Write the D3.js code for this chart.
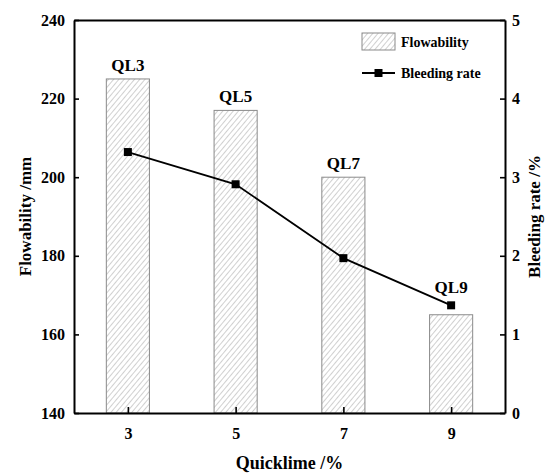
<!DOCTYPE html>
<html>
<head>
<meta charset="utf-8">
<script src="https://cdn.jsdelivr.net/npm/d3@7"></script>
<style>
  body { margin: 0; background: #fff; }
  svg { font-family: "Liberation Serif", "Times New Roman", serif; font-weight: bold; }
</style>
</head>
<body>
<div id="chart"></div>
<script>
var quicklime = [3, 5, 7, 9];
var barLabels = ["QL3", "QL5", "QL7", "QL9"];
var flowability = [225, 217, 200, 165];
var bleedingRate = [3.32, 2.91, 1.97, 1.37];
var leftTicks = [140, 160, 180, 200, 220, 240];
var rightTicks = [0, 1, 2, 3, 4, 5];

var width = 550, height = 475,
	margin = {top: 20, right: 45, bottom: 62, left: 74},
	innerW = width - margin.left - margin.right,
	innerH = height - margin.top - margin.bottom;

var svg = d3.select("#chart").append("svg")
	.attr("width", width).attr("height", height);

var defs = svg.append("defs");
var pat = defs.append("pattern")
	.attr("id", "hatch")
	.attr("patternUnits", "userSpaceOnUse")
	.attr("width", 4).attr("height", 4)
	.attr("patternTransform", "rotate(40)");
pat.append("rect").attr("width", 4).attr("height", 4).attr("fill", "#fff");
pat.append("line")
	.attr("x1", 0).attr("y1", 0).attr("x2", 0).attr("y2", 4)
	.attr("stroke", "#8a8a8a").attr("stroke-width", 0.8);

var g = svg.append("g").attr("transform", "translate(" + margin.left + "," + margin.top + ")");

var x = d3.scaleLinear().domain([2, 10]).range([0, innerW]);
var yL = d3.scaleLinear().domain([140, 240]).range([innerH, 0]);
var yR = d3.scaleLinear().domain([0, 5]).range([innerH, 0]);
var barW = x(2.8) - x(2);

// bars
g.selectAll("rect.bar")
	.data(flowability)
	.enter()
	.append("rect")
	.attr("class", "bar")
	.attr("x", function(d, i) { return x(quicklime[i]) - barW / 2; })
	.attr("y", function(d) { return yL(d); })
	.attr("width", barW)
	.attr("height", function(d) { return innerH - yL(d); })
	.attr("fill", "url(#hatch)")
	.attr("stroke", "#8a8a8a")
	.attr("stroke-width", 1);

// label sits above whichever is higher: bar top or line marker
g.selectAll("text.barlab")
	.data(flowability)
	.enter()
	.append("text")
	.attr("class", "barlab")
	.attr("x", function(d, i) { return x(quicklime[i]); })
	.attr("y", function(d, i) { return Math.min(yL(d), yR(bleedingRate[i]) - 4) - 8; })
	.attr("text-anchor", "middle")
	.attr("font-size", "17px")
	.text(function(d, i) { return barLabels[i]; });

// line
var line = d3.line()
	.x(function(d, i) { return x(quicklime[i]); })
	.y(function(d) { return yR(d); });

g.append("path")
	.datum(bleedingRate)
	.attr("d", line)
	.attr("fill", "none")
	.attr("stroke", "#000")
	.attr("stroke-width", 1.8);

g.selectAll("rect.pt")
	.data(bleedingRate)
	.enter()
	.append("rect")
	.attr("class", "pt")
	.attr("x", function(d, i) { return x(quicklime[i]) - 4; })
	.attr("y", function(d) { return yR(d) - 4; })
	.attr("width", 8).attr("height", 8)
	.attr("fill", "#000");

// axes (ticks inward)
var axL = g.append("g")
	.call(d3.axisLeft(yL).tickValues(leftTicks).tickFormat(d3.format("d"))
		.tickSizeInner(-5).tickSizeOuter(0).tickPadding(9));
var axR = g.append("g").attr("transform", "translate(" + innerW + ",0)")
	.call(d3.axisRight(yR).tickValues(rightTicks).tickFormat(d3.format("d"))
		.tickSizeInner(-5).tickSizeOuter(0).tickPadding(7));
var axB = g.append("g").attr("transform", "translate(0," + innerH + ")")
	.call(d3.axisBottom(x).tickValues(quicklime).tickFormat(d3.format("d"))
		.tickSizeInner(-6).tickSizeOuter(0).tickPadding(15));
var axT = g.append("g")
	.call(d3.axisTop(x).tickValues([]).tickSizeOuter(0));

[axL, axR, axB, axT].forEach(function(a) {
	a.selectAll("path.domain").attr("stroke", "#000").attr("stroke-width", 2);
	a.selectAll(".tick line").attr("stroke", "#000").attr("stroke-width", 1.6);
	a.selectAll("text")
		.attr("font-family", "Liberation Serif, Times New Roman, serif")
		.attr("font-weight", "bold")
		.attr("font-size", "16px")
		.attr("fill", "#000");
});

// axis titles
svg.append("text")
	.attr("transform", "translate(31," + (margin.top + innerH / 2) + ") rotate(-90)")
	.attr("text-anchor", "middle")
	.attr("font-size", "17px")
	.text("Flowability /mm");

svg.append("text")
	.attr("transform", "translate(540," + (margin.top + innerH / 2) + ") rotate(-90)")
	.attr("text-anchor", "middle")
	.attr("font-size", "17px")
	.text("Bleeding rate /%");

svg.append("text")
	.attr("x", margin.left + innerW / 2)
	.attr("y", 469)
	.attr("text-anchor", "middle")
	.attr("font-size", "18px")
	.text("Quicklime /%");

// legend
var leg = svg.append("g").attr("transform", "translate(362,33)");
leg.append("rect")
	.attr("x", 0).attr("y", 0).attr("width", 33).attr("height", 17)
	.attr("fill", "url(#hatch)").attr("stroke", "#8a8a8a");
leg.append("text").attr("x", 39).attr("y", 14).attr("font-size", "14px").text("Flowability");
leg.append("line")
	.attr("x1", 0).attr("x2", 33).attr("y1", 40).attr("y2", 40)
	.attr("stroke", "#000").attr("stroke-width", 1.8);
leg.append("rect").attr("x", 12.5).attr("y", 36).attr("width", 8).attr("height", 8).attr("fill", "#000");
leg.append("text").attr("x", 39).attr("y", 45).attr("font-size", "14px").text("Bleeding rate");
</script>
</body>
</html>
